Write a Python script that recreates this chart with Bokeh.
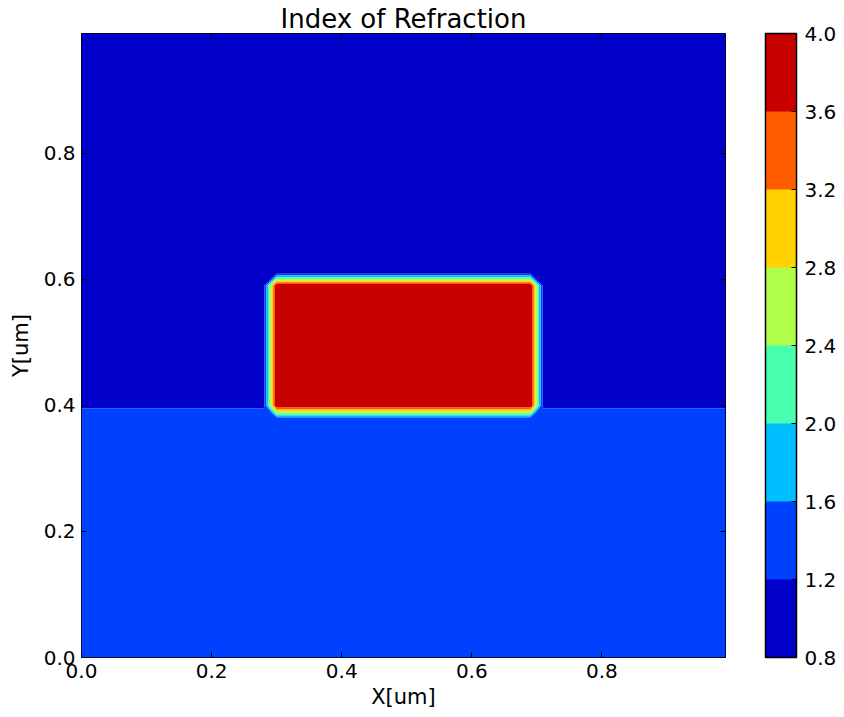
import numpy as np
from bokeh.plotting import figure
from bokeh.models import (Range1d, FixedTicker, PrintfTickFormatter, LinearAxis,
                          ColorBar, LinearColorMapper, CustomJSTickFormatter)
from bokeh.embed import file_html
from bokeh.resources import INLINE

# ---- data ----
grid_step = 0.01
grid_count = 100
n_air = 1.0
n_substrate = 1.45
n_core = 4.0
substrate_top = 0.395          # substrate below this y
core_x = [0.29, 0.70]          # core interfaces in x (on grid nodes)
core_y = [0.39, 0.60]          # core interfaces in y (on grid nodes)

levels = [0.8, 1.2, 1.6, 2.0, 2.4, 2.8, 3.2, 3.6, 4.0]
level_colors = ["#0000c8", "#0040ff", "#00bfff", "#48ffaf",
                "#afff48", "#ffd200", "#ff5c00", "#c80000"]
tick_values = [0.0, 0.2, 0.4, 0.6, 0.8]

# grid of refractive index: interface nodes take the mean of both sides,
# corner nodes keep the cladding value
idx = np.arange(grid_count)
xs = np.round(idx * grid_step, 4)
ys = np.round(idx * grid_step, 4)
XX, YY = np.meshgrid(xs, ys)


def fraction(v, lo, hi):
    on_edge = np.isclose(v, lo) | np.isclose(v, hi)
    inside = (v > lo) & (v < hi)
    return np.where(on_edge, 0.5, np.where(inside, 1.0, 0.0))


cladding = np.where(YY < substrate_top, n_substrate, n_air)
w = np.clip(fraction(XX, *core_x) + fraction(YY, *core_y) - 1.0, 0.0, 1.0)
Z = cladding + w * (n_core - cladding)

FONT = "DejaVu Sans"

p = figure(width=844, height=717, output_backend="svg", toolbar_location=None,
           x_range=Range1d(xs[0], xs[-1]), y_range=Range1d(ys[0], ys[-1]),
           frame_width=644, frame_height=624,
           min_border_left=81, min_border_top=33, min_border_bottom=60,
           min_border_right=119, title="Index of Refraction")

p.contour(x=xs, y=ys, z=Z, levels=levels, fill_color=level_colors,
          line_color=None)

p.title.align = "center"
p.title.text_font = FONT
p.title.text_font_size = "26px"
p.title.text_font_style = "normal"
p.title.text_color = "black"
p.title.standoff = 0
p.title.offset = 0

p.outline_line_color = "black"
p.outline_line_width = 1
p.grid.visible = False
p.background_fill_color = "white"
p.border_fill_color = "white"

for ax in (p.xaxis[0], p.yaxis[0]):
    ax.ticker = FixedTicker(ticks=tick_values, minor_ticks=[])
    ax.formatter = PrintfTickFormatter(format="%.1f")
    ax.major_tick_in = 5
    ax.major_tick_out = 0
    ax.minor_tick_line_color = None
    ax.major_tick_line_color = "black"
    ax.axis_line_color = None
    ax.major_label_text_font = FONT
    ax.major_label_text_font_size = "20px"
    ax.major_label_text_color = "black"
    ax.axis_label_text_font = FONT
    ax.axis_label_text_font_size = "21px"
    ax.axis_label_text_font_style = "normal"
    ax.axis_label_text_color = "black"

p.xaxis[0].axis_label = "X[um]"
p.yaxis[0].axis_label = "Y[um]"
p.xaxis[0].major_label_standoff = 6
p.yaxis[0].major_label_standoff = 6
p.xaxis[0].axis_label_standoff = 4
p.yaxis[0].axis_label_standoff = 8

# mirrored tick marks on the top and right edges (no labels)
for side in ("above", "right"):
    mirror = LinearAxis(ticker=FixedTicker(ticks=tick_values, minor_ticks=[]),
                        formatter=CustomJSTickFormatter(code="return ''"),
                        major_tick_in=5, major_tick_out=0,
                        minor_tick_line_color=None, axis_line_color=None,
                        major_tick_line_color="black",
                        major_label_text_font_size="1px",
                        major_label_standoff=0)
    p.add_layout(mirror, side)

cmap = LinearColorMapper(palette=level_colors, low=levels[0], high=levels[-1])
cb = ColorBar(color_mapper=cmap, ticker=FixedTicker(ticks=levels, minor_ticks=[]),
              formatter=PrintfTickFormatter(format="%.1f"),
              width=31, height=624, location=(40, 0), margin=0, padding=0,
              bar_line_color="black", bar_line_width=1.5,
              major_tick_line_color="black", major_tick_in=5, major_tick_out=0,
              minor_tick_line_color=None,
              major_label_text_font=FONT, major_label_text_font_size="20px",
              major_label_text_color="black", label_standoff=8,
              background_fill_color=None, border_line_color=None)
p.add_layout(cb, "right")

open("out.html", "w").write(file_html(p, INLINE))
